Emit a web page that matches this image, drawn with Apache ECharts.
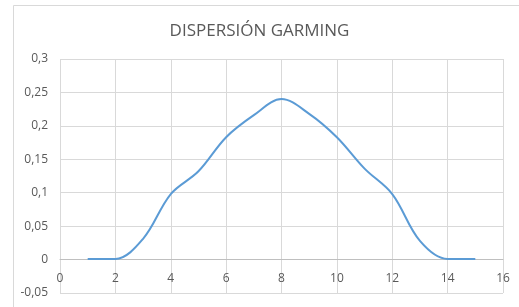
<!DOCTYPE html>
<html>
<head>
<meta charset="utf-8">
<script src="https://cdn.jsdelivr.net/npm/echarts@6/dist/echarts.min.js"></script>
<style>
  html, body { margin: 0; padding: 0; background: #fff; }
  #chart { width: 519px; height: 307px; }
</style>
</head>
<body>
<div id="chart"></div>
<script>
var myChart = echarts.init(document.getElementById('chart'));

// datos
var xValues = [1, 2, 3, 4, 5, 6, 7, 8, 9, 10, 11, 12, 13, 14, 15];
var yValues = [0.001, 0.001, 0.031, 0.098, 0.132, 0.183, 0.216, 0.24, 0.218, 0.183, 0.136, 0.098, 0.028, 0.001, 0.001];

var points = [];
for (var i = 0; i < xValues.length; i++) {
    points.push([xValues[i], yValues[i]]);
}

var labelColor = '#595959';
var gridColor = '#d9d9d9';

var gridTop = 59, gridBottom = 14;
var yMin = -0.05, yMax = 0.3;
// el eje X cruza en y = 0: desplazar el eje hasta esa linea
var plotH = 307 - gridTop - gridBottom;
var zeroOffset = -plotH * (0 - yMin) / (yMax - yMin);

option = {
    backgroundColor: '#fff',
    animation: false,
    title: {
        text: 'DISPERSIÓN GARMING',
        left: 'center',
        top: 18,
        textStyle: {
            color: labelColor,
            fontFamily: 'Open Sans',
            fontWeight: 'normal',
            fontSize: 17
        }
    },
    graphic: [{
        type: 'rect',
        shape: {x: 13.5, y: 5.5, width: 520, height: 320},
        style: {fill: 'none', stroke: gridColor, lineWidth: 1},
        silent: true
    }],
    grid: {
        left: 60,
        right: 16,
        top: gridTop,
        bottom: gridBottom,
        outerBoundsMode: 'none'
    },
    xAxis: [{
        type: 'value',
        min: 0,
        max: 16,
        interval: 2,
        axisLine: {show: false},
        axisTick: {show: false},
        axisLabel: {show: false},
        splitLine: {show: true, lineStyle: {color: gridColor}}
    }, {
        type: 'value',
        position: 'bottom',
        offset: zeroOffset,
        min: 0,
        max: 16,
        interval: 2,
        axisLine: {show: true, onZero: false, lineStyle: {color: '#bfbfbf', width: 1}},
        axisTick: {show: false},
        axisLabel: {color: labelColor, fontSize: 12, fontFamily: 'Open Sans', margin: 13},
        splitLine: {show: false}
    }],
    yAxis: {
        type: 'value',
        min: yMin,
        max: yMax,
        interval: 0.05,
        axisLine: {show: false},
        axisTick: {show: false},
        axisLabel: {
            color: labelColor,
            fontSize: 12,
            fontFamily: 'Open Sans',
            margin: 12,
            formatter: function (v) {
                return String(Math.round(v * 100) / 100).replace('.', ',');
            }
        },
        splitLine: {show: true, lineStyle: {color: gridColor}}
    },
    series: [{
        type: 'line',
        data: points,
        smooth: 0.35,
        showSymbol: false,
        lineStyle: {color: '#5b9bd5', width: 2}
    }]
};
myChart.setOption(option);
</script>
</body>
</html>
